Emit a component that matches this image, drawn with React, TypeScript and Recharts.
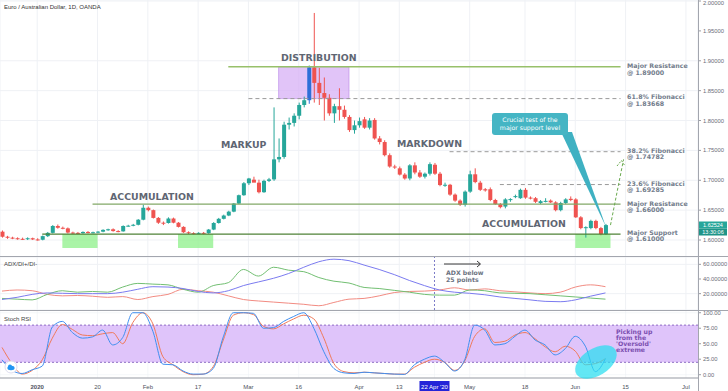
import React from "react"
import {
  ComposedChart,
  Bar,
  Line,
  XAxis,
  YAxis,
  CartesianGrid,
  ReferenceLine,
  ReferenceArea,
} from "recharts"

// day index: 0 = 1 Jan 2020 (trading days), first candle = 23 Dec 2019
const FIRST_DAY = -6
const X_DOMAIN: [number, number] = [-6.4, 132.4]

const opens = [
  1.614, 1.6055, 1.604, 1.603, 1.602, 1.6015, 1.603, 1.601, 1.6005, 1.6065,
  1.612, 1.6235, 1.6205, 1.6195, 1.6125, 1.612, 1.6115, 1.6135, 1.6125, 1.613,
  1.614, 1.617, 1.618, 1.615, 1.6145, 1.6235, 1.624, 1.6255, 1.634, 1.654,
  1.65, 1.637, 1.629, 1.6285, 1.636, 1.629, 1.622, 1.613, 1.6115, 1.611,
  1.612, 1.6115, 1.6175, 1.6285, 1.6355, 1.641, 1.6475, 1.661, 1.675, 1.695,
  1.701, 1.696, 1.68, 1.699, 1.7015, 1.735, 1.739, 1.793, 1.796, 1.808,
  1.826, 1.834, 1.889, 1.863, 1.846, 1.838, 1.812, 1.824, 1.818, 1.806,
  1.784, 1.792, 1.802, 1.788, 1.801, 1.77, 1.764, 1.742, 1.723, 1.72,
  1.7095, 1.703, 1.725, 1.713, 1.706, 1.711, 1.726, 1.711, 1.692, 1.6925,
  1.676, 1.666, 1.659, 1.681, 1.71, 1.696, 1.685, 1.685, 1.667, 1.66,
  1.656, 1.667, 1.673, 1.67, 1.684, 1.671, 1.67, 1.662, 1.665, 1.666,
  1.663, 1.65, 1.662, 1.669, 1.668, 1.638, 1.62, 1.62, 1.632, 1.62,
  1.61,
]
const highs = [
  1.616, 1.607, 1.6055, 1.6045, 1.604, 1.6045, 1.604, 1.603, 1.6075, 1.6135,
  1.625, 1.626, 1.6225, 1.621, 1.614, 1.6135, 1.6145, 1.615, 1.614, 1.615,
  1.618, 1.619, 1.6195, 1.6165, 1.6245, 1.6255, 1.627, 1.635, 1.659, 1.656,
  1.651, 1.6385, 1.631, 1.638, 1.6375, 1.63, 1.623, 1.6145, 1.613, 1.613,
  1.6135, 1.6185, 1.63, 1.637, 1.6425, 1.649, 1.662, 1.676, 1.697, 1.704,
  1.706, 1.701, 1.701, 1.704, 1.822, 1.77, 1.798, 1.805, 1.812, 1.83,
  1.84, 1.892, 1.98, 1.888, 1.872, 1.844, 1.828, 1.854, 1.825, 1.809,
  1.8, 1.805, 1.806, 1.804, 1.804, 1.774, 1.767, 1.745, 1.726, 1.723,
  1.712, 1.727, 1.73, 1.717, 1.713, 1.73, 1.729, 1.714, 1.696, 1.694,
  1.678, 1.668, 1.683, 1.716, 1.72, 1.699, 1.687, 1.688, 1.669, 1.662,
  1.67, 1.67, 1.676, 1.686, 1.687, 1.673, 1.672, 1.667, 1.67, 1.668,
  1.665, 1.664, 1.67, 1.673, 1.67, 1.64, 1.623, 1.634, 1.634, 1.622,
  1.627,
]
const lows = [
  1.604, 1.602, 1.6015, 1.6005, 1.6, 1.6, 1.6, 1.599, 1.5995, 1.605,
  1.611, 1.619, 1.618, 1.611, 1.61, 1.61, 1.6105, 1.611, 1.611, 1.6115,
  1.613, 1.6155, 1.614, 1.613, 1.614, 1.6225, 1.623, 1.6245, 1.633, 1.648,
  1.636, 1.627, 1.625, 1.6275, 1.628, 1.621, 1.612, 1.61, 1.6095, 1.61,
  1.6095, 1.6105, 1.6165, 1.6275, 1.6345, 1.64, 1.6465, 1.66, 1.674, 1.692,
  1.698, 1.678, 1.679, 1.697, 1.699, 1.73, 1.736, 1.785, 1.79, 1.802,
  1.822, 1.828, 1.83, 1.826, 1.8, 1.808, 1.796, 1.8, 1.803, 1.781,
  1.778, 1.788, 1.786, 1.785, 1.768, 1.76, 1.74, 1.721, 1.719, 1.708,
  1.701, 1.7, 1.71, 1.704, 1.703, 1.708, 1.709, 1.69, 1.689, 1.674,
  1.664, 1.657, 1.656, 1.679, 1.695, 1.682, 1.681, 1.665, 1.659, 1.653,
  1.653, 1.664, 1.67, 1.669, 1.669, 1.668, 1.662, 1.66, 1.663, 1.662,
  1.648, 1.648, 1.66, 1.665, 1.637, 1.618, 1.604, 1.618, 1.618, 1.608,
  1.6085,
]
const closes = [
  1.6055, 1.604, 1.603, 1.602, 1.6015, 1.603, 1.601, 1.6005, 1.6065, 1.612,
  1.6235, 1.6205, 1.6195, 1.6125, 1.612, 1.6115, 1.6135, 1.6125, 1.613, 1.614,
  1.617, 1.618, 1.615, 1.6145, 1.6235, 1.624, 1.6255, 1.634, 1.654, 1.65,
  1.637, 1.629, 1.6285, 1.636, 1.629, 1.622, 1.613, 1.6115, 1.611, 1.612,
  1.6115, 1.6175, 1.6285, 1.6355, 1.641, 1.6475, 1.661, 1.675, 1.695, 1.703,
  1.696, 1.68, 1.699, 1.7015, 1.735, 1.739, 1.793, 1.796, 1.808, 1.826,
  1.834, 1.889, 1.863, 1.846, 1.838, 1.812, 1.824, 1.818, 1.806, 1.784,
  1.792, 1.799, 1.788, 1.8, 1.77, 1.764, 1.742, 1.723, 1.7215, 1.7095,
  1.703, 1.725, 1.713, 1.706, 1.711, 1.727, 1.711, 1.692, 1.6925, 1.676,
  1.666, 1.659, 1.681, 1.71, 1.697, 1.684, 1.683, 1.667, 1.66, 1.655,
  1.668, 1.6685, 1.6735, 1.684, 1.671, 1.6695, 1.664, 1.665, 1.6655, 1.663,
  1.65, 1.662, 1.668, 1.667, 1.638, 1.62, 1.6215, 1.632, 1.62, 1.61,
  1.625,
]
const highlightDay = 55 // 18 Mar candle drawn in blue

// ADX / DI+ / DI- sampled every 3rd day from FIRST_DAY
const adxVals = [
  12, 15, 19, 21, 20.5, 20, 20, 20, 22, 26, 29.5, 29, 27, 23, 21, 24, 31, 36, 41, 47.5,
  56, 63.5, 67, 65, 59, 53, 46, 38, 31, 25, 22, 20.5, 18.5, 15.5, 13.5, 11.5, 9.5, 9, 11.5, 16.5,
  21,
]
const diPlusVals = [
  13.5, 12.5, 11.5, 19, 24, 22, 23, 22, 29, 34, 33, 32, 26, 22, 31, 35, 53, 44, 56, 52,
  50, 42, 37, 34.5, 28.5, 27, 24.5, 22, 19, 18, 18, 25, 24, 21, 20.5, 20, 18.5, 17, 15.5, 14,
  12.5,
]
const diMinusVals = [
  23.5, 25, 24, 19, 17, 17.5, 16.5, 15, 16, 12, 16, 19, 26, 24, 22, 17, 12, 10, 8.5, 7,
  5.5, 3.5, 8, 12.5, 13.5, 17, 21.5, 23, 23.5, 25, 28, 25, 26.5, 24, 22.5, 21, 20, 22, 29, 32,
  29.5,
]

// Stoch RSI %K / %D sampled every 2nd day from FIRST_DAY
const kVals = [
  24, 7, 2, 8, 14, 77, 86, 68, 59, 61, 72, 48, 60, 100, 100, 70, 17, 16, 6, 1,
  1, 10, 61, 100, 100, 99, 75, 76, 86, 94, 100, 75, 37, 10, 3, 2, 4, 3, 2, 1,
  0.5, 16, 25, 30, 20, 6, 24, 80, 72, 48, 50, 62, 72, 56, 48, 32, 42, 62, 46, 5,
  26,
]
const dVals = [
  44, 18, 1, 7, 24, 59, 81, 73, 64, 63, 66, 68, 50, 84, 100, 82, 29, 16, 5, 0,
  1, 13, 56, 96, 100, 97, 78, 74, 82, 90, 96, 90, 59, 18, 5, 3, 4, 3, 2, 1,
  1, 12, 20, 25, 20, 7, 22, 62, 74, 52, 54, 64, 68, 58, 45, 37, 46, 38, 16, 18,
  26,
]

const xTicks = [1, 13, 23, 33, 43, 53, 65, 73, 80, 87, 98, 108, 118, 130]
const xTickLabels = ["2020", "20", "Feb", "17", "Mar", "16", "Apr", "13", "22 Apr '20", "May", "18", "Jun", "15", "Jul"]
const gridTicks = xTicks.filter((t) => t !== 80)
const priceTicks = [1.6, 1.65, 1.7, 1.75, 1.8, 1.85, 1.9, 1.95, 2.0]
const adxTicks = [0, 20, 40, 60]
const stochTicks = [0, 25, 50, 75, 100]

const UP = "#26a69a"
const DOWN = "#ef5350"
const BLUE = "#2e6fd8"
const AXIS_FONT = "'Liberation Sans', Arial, sans-serif"
const NOTE_FONT = "'DejaVu Sans', Verdana, sans-serif"

const candles = opens.map((o, k) => ({
  day: FIRST_DAY + k,
  open: o,
  high: highs[k],
  low: lows[k],
  close: closes[k],
  range: [lows[k], highs[k]],
  color: FIRST_DAY + k === highlightDay ? BLUE : closes[k] >= o ? UP : DOWN,
}))

const adxRows = adxVals.map((v, k) => ({
  day: FIRST_DAY + k * 3,
  adx: v,
  diPlus: diPlusVals[k],
  diMinus: diMinusVals[k],
}))

const stochRows = kVals.map((v, k) => ({ day: FIRST_DAY + k * 2, k: v, d: dVals[k] }))

function Candle(props: any) {
  const { x, y, width, height, payload } = props
  if (x == null || !payload) return null
  const { open, close, high, low, color } = payload
  const s = height / Math.max(high - low, 1e-6)
  const top = y + (high - Math.max(open, close)) * s
  const h = Math.max(1, Math.abs(close - open) * s)
  const cx = x + width / 2
  return (
    <g>
      <line x1={cx} x2={cx} y1={y} y2={y + height} stroke={color} strokeWidth={1} />
      <rect x={x} y={top} width={width} height={h} fill={color} />
    </g>
  )
}

function DateTick(props: any) {
  const { x, y, payload } = props
  const i = xTicks.indexOf(payload.value)
  const label = xTickLabels[i] ?? ""
  if (payload.value === 80) {
    return (
      <g>
        <rect x={x - 15} y={y + 1} width={30} height={10} fill="#2424d8" />
        <text x={x} y={y + 8.5} textAnchor="middle" fontSize={6} fill="#fff" fontFamily={AXIS_FONT}>
          {label}
        </text>
      </g>
    )
  }
  return (
    <text x={x} y={y + 8.5} textAnchor="middle" fontSize={6} fill="#50535e" fontWeight={label === "2020" ? 700 : 400} fontFamily={AXIS_FONT}>
      {label}
    </text>
  )
}

const yTick = { fontSize: 5.8, fill: "#6a6d78", fontFamily: AXIS_FONT }
const noMargin = { top: 0, right: 0, bottom: 0, left: 0 }

const levelLabels: Array<[string, string, number]> = [
  ["Major Resistance", "@ 1.89000", 68],
  ["61.8% Fibonacci", "@ 1.83668", 99],
  ["38.2% Fibonacci", "@ 1.74782", 152.5],
  ["23.6% Fibonacci", "@ 1.69285", 185.5],
  ["Major Resistance", "@ 1.66000", 205.5],
  ["Major Support", "@ 1.61000", 234.5],
]

export default function App() {
  return (
    <div style={{ position: "absolute", left: 0, top: 0, width: 728, height: 391, background: "#fff", overflow: "hidden" }}>
      {/* price panel */}
      <div style={{ position: "absolute", left: 0, top: 0 }}>
        <ComposedChart width={728} height={257} data={candles} margin={noMargin}>
          <CartesianGrid stroke="#eff1f5" />
          <XAxis dataKey="day" type="number" domain={X_DOMAIN} ticks={gridTicks} hide allowDataOverflow />
          <YAxis
            orientation="right"
            width={30}
            domain={[1.5716, 2.0017]}
            ticks={priceTicks}
            tickFormatter={(v: number) => v.toFixed(5)}
            tick={yTick}
            tickSize={3}
            tickLine={{ stroke: "#9a9da5" }}
            axisLine={false}
            allowDataOverflow
          />
          <ReferenceArea x1={6} x2={13} y1={1.5866} y2={1.61} fill="#8ef08a" fillOpacity={0.75} stroke="none" />
          <ReferenceArea x1={29} x2={36} y1={1.5866} y2={1.61} fill="#8ef08a" fillOpacity={0.75} stroke="none" />
          <ReferenceArea x1={108} x2={115} y1={1.5866} y2={1.61} fill="#8ef08a" fillOpacity={0.75} stroke="none" />
          <ReferenceArea x1={49} x2={63} y1={1.83668} y2={1.89} fill="#d7b0f6" fillOpacity={0.75} stroke="#b987e6" strokeWidth={0.6} />
          <ReferenceLine segment={[{ x: 39, y: 1.89 }, { x: 117, y: 1.89 }]} stroke="#97c06a" strokeWidth={1.4} />
          <ReferenceLine segment={[{ x: 43, y: 1.83668 }, { x: 117, y: 1.83668 }]} stroke="#9a9a9a" strokeDasharray="4 3" />
          <ReferenceLine segment={[{ x: 83, y: 1.74782 }, { x: 117, y: 1.74782 }]} stroke="#9a9a9a" strokeDasharray="4 3" />
          <ReferenceLine segment={[{ x: 93, y: 1.69285 }, { x: 117, y: 1.69285 }]} stroke="#9a9a9a" strokeDasharray="4 3" />
          <ReferenceLine segment={[{ x: 12, y: 1.66 }, { x: 117, y: 1.66 }]} stroke="#82a867" strokeWidth={1.3} />
          <ReferenceLine segment={[{ x: 2, y: 1.61 }, { x: 117, y: 1.61 }]} stroke="#4f8237" strokeWidth={1.3} />
          <Bar dataKey="range" shape={<Candle />} barSize={4} isAnimationActive={false} />
          <ReferenceLine segment={[{ x: 115, y: 1.625 }, { x: 117.6, y: 1.735 }]} stroke="#6aaa4f" strokeDasharray="3 2" />
        </ComposedChart>
      </div>

      {/* ADX panel */}
      <div style={{ position: "absolute", left: 0, top: 257 }}>
        <ComposedChart width={728} height={53} data={adxRows} margin={noMargin}>
          <CartesianGrid stroke="#eff1f5" />
          <XAxis dataKey="day" type="number" domain={X_DOMAIN} ticks={gridTicks} hide allowDataOverflow />
          <YAxis
            orientation="right"
            width={30}
            domain={[-2.3, 70]}
            ticks={adxTicks}
            tickFormatter={(v: number) => v.toFixed(5)}
            tick={yTick}
            tickSize={3}
            tickLine={{ stroke: "#9a9da5" }}
            axisLine={false}
            allowDataOverflow
          />
          <ReferenceLine x={80} stroke="#7c7cc8" strokeDasharray="2 2" />
          <Line dataKey="diMinus" stroke="#f28b82" strokeWidth={1} dot={false} type="monotone" isAnimationActive={false} />
          <Line dataKey="diPlus" stroke="#72bf72" strokeWidth={1} dot={false} type="monotone" isAnimationActive={false} />
          <Line dataKey="adx" stroke="#7b7bf0" strokeWidth={1} dot={false} type="monotone" isAnimationActive={false} />
        </ComposedChart>
      </div>

      {/* Stoch RSI panel */}
      <div style={{ position: "absolute", left: 0, top: 310 }}>
        <ComposedChart width={728} height={81} data={stochRows} margin={noMargin}>
          <ReferenceArea y1={20} y2={80} fill="#dfc4fa" fillOpacity={1} stroke="none" />
          <CartesianGrid stroke="#eff1f5" strokeOpacity={0.6} />
          <XAxis
            dataKey="day"
            type="number"
            domain={X_DOMAIN}
            ticks={xTicks}
            tick={<DateTick />}
            height={13}
            tickSize={0}
            axisLine={{ stroke: "#9a9da5" }}
            interval={0}
            allowDataOverflow
          />
          <YAxis
            orientation="right"
            width={30}
            domain={[-5.3, 104.4]}
            ticks={stochTicks}
            tickFormatter={(v: number) => v.toFixed(2)}
            tick={yTick}
            tickSize={3}
            tickLine={{ stroke: "#9a9da5" }}
            axisLine={false}
            allowDataOverflow
          />
          <ReferenceLine y={80} stroke="#8e6cc4" strokeDasharray="2 2" />
          <ReferenceLine y={20} stroke="#8e6cc4" strokeDasharray="2 2" />
          <Line dataKey="d" stroke="#f07a5a" strokeWidth={1} dot={false} type="monotone" isAnimationActive={false} />
          <Line dataKey="k" stroke="#3f8ff0" strokeWidth={1} dot={false} type="monotone" isAnimationActive={false} />
        </ComposedChart>
      </div>

      {/* annotations */}
      <svg width={728} height={391} style={{ position: "absolute", left: 0, top: 0, pointerEvents: "none" }}>
        <line x1={0} x2={728} y1={256.5} y2={256.5} stroke="#a3a6ae" />
        <line x1={0} x2={728} y1={310.5} y2={310.5} stroke="#a3a6ae" />
        <line x1={698.5} x2={698.5} y1={0} y2={391} stroke="#a3a6ae" />

        <text x={4} y={9} fontSize={6} fill="#333" fontFamily={AXIS_FONT}>Euro / Australian Dollar, 1D, OANDA</text>
        <text x={4} y={266} fontSize={6} fill="#444" fontFamily={AXIS_FONT}>ADX/DI+/DI-</text>
        <text x={4} y={321} fontSize={6} fill="#444" fontFamily={AXIS_FONT}>Stoch RSI</text>

        <g fontFamily={NOTE_FONT} fontWeight={700} fill="#5f6673" fontSize={9.4}>
          <text x={281} y={60.5}>DISTRIBUTION</text>
          <text x={221} y={147.5}>MARKUP</text>
          <text x={110} y={199.5}>ACCUMULATION</text>
          <text x={397} y={146.5}>MARKDOWN</text>
          <text x={482} y={226.5}>ACCUMULATION</text>
        </g>

        <g fontFamily={NOTE_FONT} fontWeight={700} fill="#737d8c" fontSize={6.3}>
          {levelLabels.map(([a, b, y]) => (
            <g key={a + b}>
              <text x={627} y={y}>{a}</text>
              <text x={627} y={y + 6.5}>{b}</text>
            </g>
          ))}
        </g>

        {/* projection arrow head */}
        <polyline points="617,166 621.5,160.5 625,166" fill="none" stroke="#6aaa4f" strokeDasharray="2 1.5" />

        {/* callout */}
        <polygon points="561,132 572,132 606,227" fill="#3fb1c2" />
        <rect x={492} y={113} width={76} height={22} rx={3} fill="#45b5c4" />
        <g fontFamily={NOTE_FONT} fontSize={6.2} fill="#fff" textAnchor="middle">
          <text x={530} y={122}>Crucial test of the</text>
          <text x={530} y={129.5}>major support level</text>
        </g>

        {/* current price labels */}
        <rect x={699} y={221.5} width={28} height={7} fill={UP} />
        <text x={713} y={227} fontSize={5.5} fill="#fff" textAnchor="middle" fontFamily={AXIS_FONT}>1.62524</text>
        <rect x={699} y={228.5} width={28} height={7} fill="#1f9488" />
        <text x={713} y={234} fontSize={5.5} fill="#fff" textAnchor="middle" fontFamily={AXIS_FONT}>13:30:06</text>

        {/* ADX note */}
        <line x1={444} x2={480} y1={264} y2={264} stroke="#222" strokeWidth={0.9} />
        <polyline points="477,261 480.5,264 477,267" fill="none" stroke="#222" strokeWidth={0.9} />
        <g fontFamily={NOTE_FONT} fontWeight={700} fill="#6b7280" fontSize={6.2}>
          <text x={446} y={275}>ADX below</text>
          <text x={446} y={281.5}>25 points</text>
        </g>

        {/* Stoch note */}
        <ellipse cx={596} cy={362} rx={23} ry={13.5} transform="rotate(-32 596 362)" fill="#27def0" fillOpacity={0.72} />
        <g fontFamily={NOTE_FONT} fontWeight={700} fill="#7b4fb0" fontSize={6.2}>
          <text x={616} y={334}>Picking up</text>
          <text x={616} y={340}>from the</text>
          <text x={616} y={346}>'Oversold'</text>
          <text x={616} y={352}>extreme</text>
        </g>

        {/* logo badge */}
        <circle cx={11} cy={367} r={6} fill="#fff" stroke="#dde" />
        <ellipse cx={11} cy={368} rx={3.6} ry={2.2} fill="#2196f3" />
        <circle cx={10} cy={366.5} r={2} fill="#2196f3" />
      </svg>
    </div>
  )
}
